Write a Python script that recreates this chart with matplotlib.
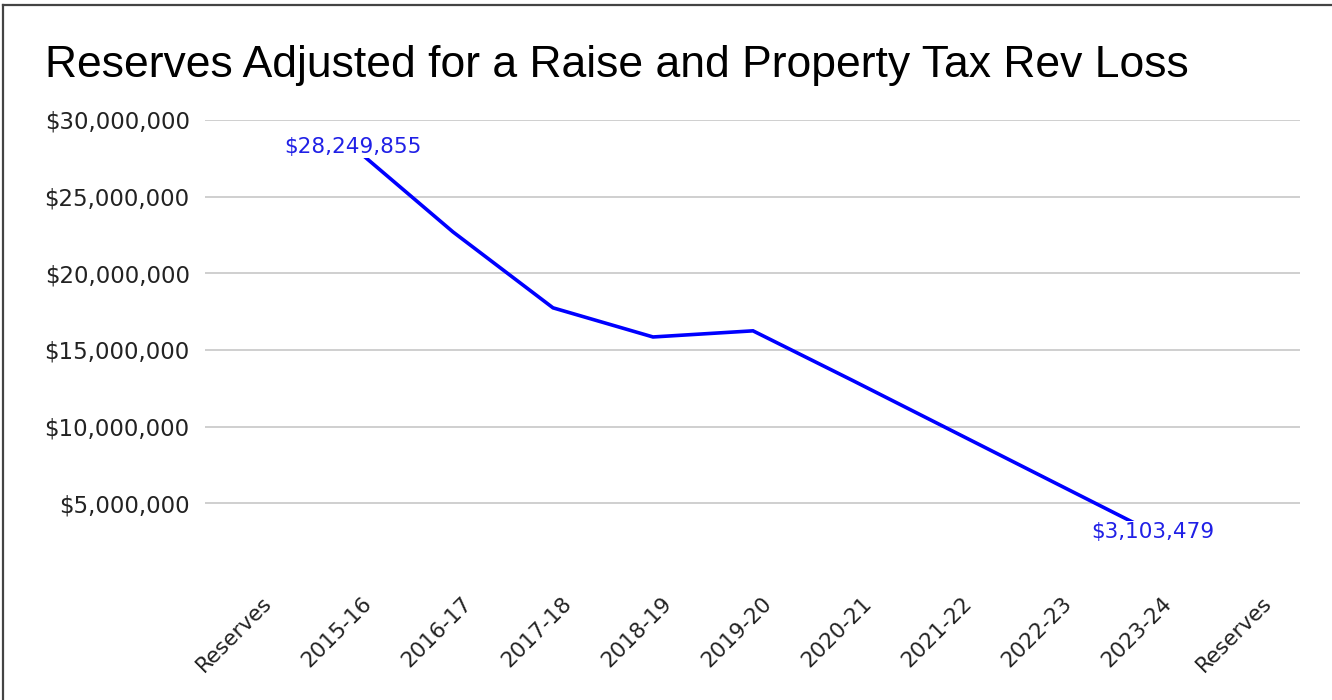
import matplotlib
matplotlib.use("Agg")
import matplotlib.pyplot as plt
from matplotlib.lines import Line2D
from matplotlib.ticker import FuncFormatter
import matplotlib.transforms as mtransforms

# ---- data ----
categories = ["Reserves", "2015-16", "2016-17", "2017-18", "2018-19", "2019-20",
              "2020-21", "2021-22", "2022-23", "2023-24", "Reserves"]
years = ["2015-16", "2016-17", "2017-18", "2018-19", "2019-20",
         "2020-21", "2021-22", "2022-23", "2023-24"]
reserves = [28249855, 22700000, 17750000, 15850000, 16250000,
            13000000, 9700000, 6400000, 3103479]
labeled = {"2015-16": "$28,249,855", "2023-24": "$3,103,479"}
yticks = [5000000, 10000000, 15000000, 20000000, 25000000, 30000000]
title = "Reserves Adjusted for a Raise and Property Tax Rev Loss"

W, H = 1332, 700
fig = plt.figure(figsize=(W / 100, H / 100), dpi=100)
fig.patch.set_facecolor("white")

ax = fig.add_axes([205 / W, 1 - 580 / H, (1300 - 205) / W, (580 - 120) / H])
xpos = {c: i for i, c in enumerate(categories[:-1])}
xs = [xpos[y] for y in years]
ax.plot(xs, reserves, color="#0000ff", lw=2.6, solid_joinstyle="miter", zorder=3)

for yr, txt in labeled.items():
    i = years.index(yr)
    ax.text(xs[i], reserves[i], txt, ha="center", va="center", fontsize=15.5,
            family="DejaVu Sans", color="#2020e6", zorder=4,
            bbox=dict(facecolor="white", edgecolor="none", pad=1.0))

ax.set_xlim(-0.48, len(categories) - 0.53)
ax.set_ylim(0, 30000000)
ax.set_yticks(yticks)
ax.yaxis.set_major_formatter(FuncFormatter(lambda v, p: "${:,.0f}".format(v)))
ax.set_xticks(range(len(categories)))
ax.set_xticklabels(categories)
for s in ax.spines.values():
    s.set_visible(False)
ax.grid(axis="y", color="#cccccc", lw=1.3)
ax.set_axisbelow(True)
ax.tick_params(axis="both", length=0)
ax.tick_params(axis="y", pad=11, labelsize=16.5, labelcolor="#222222")
offset = mtransforms.ScaledTranslation(0.16, -0.15, fig.dpi_scale_trans)
for lab in ax.get_xticklabels():
    lab.set_rotation(45)
    lab.set_ha("right")
    lab.set_va("center")
    lab.set_rotation_mode("anchor")
    lab.set_fontsize(15.5)
    lab.set_family("DejaVu Sans")
    lab.set_color("#222222")
    lab.set_transform(lab.get_transform() + offset)
for lab in ax.get_yticklabels():
    lab.set_family("DejaVu Sans")

fig.text(45 / W, 1 - 65 / H, title, ha="left", va="center", fontsize=32,
         family="Liberation Sans", color="black")

# screenshot frame (top & left edges)
fig.add_artist(Line2D([3 / W, 1], [1 - 5 / H, 1 - 5 / H], transform=fig.transFigure,
                      color="#444444", lw=1.6))
fig.add_artist(Line2D([3 / W, 3 / W], [0, 1 - 5 / H], transform=fig.transFigure,
                      color="#444444", lw=1.6))

fig.savefig("out.png", dpi=100)
